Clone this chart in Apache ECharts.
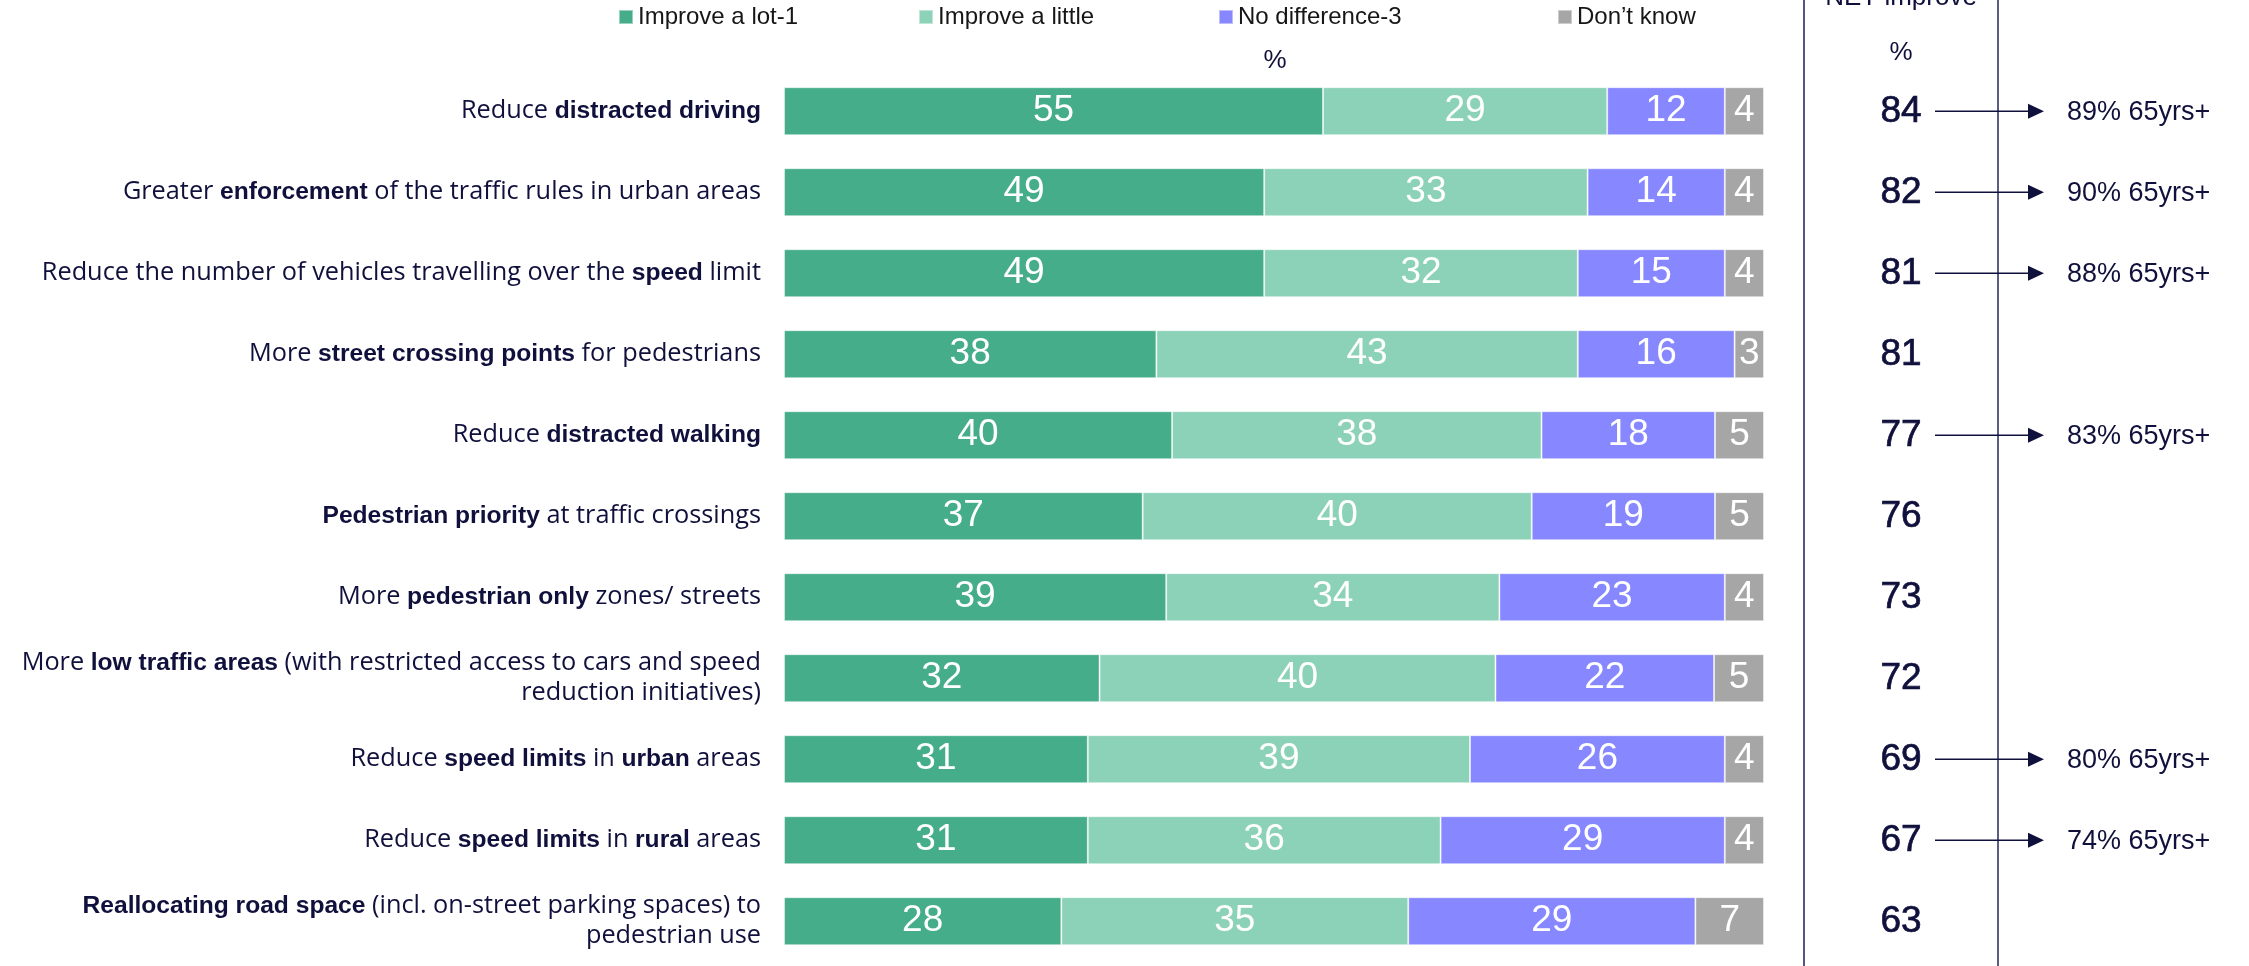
<!DOCTYPE html>
<html>
<head>
<meta charset="utf-8">
<title>Road safety measures – expected improvement</title>
<script src="https://cdn.jsdelivr.net/npm/echarts@6/dist/echarts.min.js"></script>
<style>
  html, body { margin: 0; padding: 0; background: #ffffff; }
  #chart { width: 2249px; height: 966px; }
</style>
</head>
<body>
<div id="chart"></div>
<script>
// Measures, with **bold** key phrases
const categories = [
  'Reduce **distracted driving**',
  'Greater **enforcement** of the traffic rules in urban areas',
  'Reduce the number of vehicles travelling over the **speed** limit',
  'More **street crossing points** for pedestrians',
  'Reduce **distracted walking**',
  '**Pedestrian priority** at traffic crossings',
  'More **pedestrian only** zones/ streets',
  'More **low traffic areas** (with restricted access to cars and speed\nreduction initiatives)',
  'Reduce **speed limits** in **urban** areas',
  'Reduce **speed limits** in **rural** areas',
  '**Reallocating road space** (incl. on-street parking spaces) to\npedestrian use'
];

const seriesNames = ['Improve a lot-1', 'Improve a little', 'No difference-3', 'Don\u2019t know'];

// Shares in % (unrounded where the rounded figures do not add up to 100)
const improveALot    = [55, 49, 49, 38, 39.6, 36.6, 39, 32.2, 31, 31, 28.3];
const improveALittle = [29, 33, 32, 43, 37.7, 39.7, 34, 40.4, 39, 36, 35.4];
const noDifference   = [12, 14, 15, 16, 17.7, 18.7, 23, 22.3, 26, 29, 29.3];
const dontKnow       = [4, 4, 4, 3, 5.0, 5.0, 4, 5.1, 4, 4, 7.0];

const netImprove     = [84, 82, 81, 81, 77, 76, 73, 72, 69, 67, 63];
const netImprove65   = [89, 90, 88, null, 83, null, null, null, 80, 74, null];

const colors = ['#46ad8a', '#8cd2b9', '#8787ff', '#a6a6a6'];
const navy = '#10103c';
const FONT = "'Liberation Sans', Arial, sans-serif";
const LABEL_FONT = "'Open Sans', 'Liberation Sans', Arial, sans-serif";

// Turn "**bold**" markup into ECharts rich text
function richLabel(str) {
  return str.split('\n').map(function (line) {
    const parts = line.split('**');
    return parts.map(function (p, i) {
      if (!p) return '';
      return '{' + (i % 2 ? 'b' : 'n') + '|' + p + '}';
    }).join('');
  }).join('\n');
}

const chart = echarts.init(document.getElementById('chart'), null, { renderer: 'canvas' });

const valueLists = [improveALot, improveALittle, noDifference, dontKnow];
const legendLeft = [618, 918, 1218, 1557];

const barSeries = seriesNames.map(function (name, k) {
  return {
    name: name,
    type: 'bar',
    stack: 'total',
    xAxisIndex: 0,
    yAxisIndex: 0,
    barWidth: 48,
    itemStyle: { color: colors[k], borderColor: 'rgba(255,255,255,0.45)', borderWidth: 1 },
    label: {
      show: true,
      position: 'inside',
      color: '#ffffff',
      fontFamily: FONT,
      fontSize: 37,
      formatter: function (p) { return String(Math.round(p.value)); }
    },
    emphasis: { disabled: true },
    data: valueLists[k]
  };
});

const netSeries = {
  type: 'custom',
  xAxisIndex: 1,
  yAxisIndex: 1,
  clip: false,
  silent: true,
  data: categories.map(function (c, i) { return [netImprove[i], i]; }),
  renderItem: function (params, api) {
    const idx = api.value(1);
    const y = api.coord([0, idx])[1];
    const x0 = params.coordSys.x;
    const children = [{
      type: 'text',
      x: x0 + 97,
      y: y + 1,
      style: {
        text: String(api.value(0)),
        fill: navy,
        stroke: navy,
        lineWidth: 0.7,
        fontFamily: FONT,
        fontSize: 37,
        align: 'center',
        verticalAlign: 'middle'
      }
    }];
    const senior = netImprove65[idx];
    if (senior != null) {
      children.push({
        type: 'line',
        shape: { x1: x0 + 131, y1: y, x2: x0 + 226, y2: y },
        style: { stroke: navy, lineWidth: 1.5 }
      });
      children.push({
        type: 'polygon',
        shape: { points: [[x0 + 224, y - 7.5], [x0 + 240, y], [x0 + 224, y + 7.5]] },
        style: { fill: navy }
      });
      children.push({
        type: 'text',
        x: x0 + 263,
        y: y + 1,
        style: {
          text: senior + '% 65yrs+',
          fill: navy,
          fontFamily: FONT,
          fontSize: 27,
          align: 'left',
          verticalAlign: 'middle'
        }
      });
    }
    return { type: 'group', children: children };
  }
};

const option = {
  backgroundColor: '#ffffff',
  animation: false,
  textStyle: { fontFamily: FONT },
  legend: seriesNames.map(function (name, k) {
    return {
      data: [name],
      left: legendLeft[k],
      top: 5,
      padding: 0,
      itemWidth: 14,
      itemHeight: 14,
      icon: 'rect',
      selectedMode: false,
      textStyle: { color: '#161616', fontSize: 24, fontFamily: FONT }
    };
  }),
  grid: [
    { left: 784, width: 980, top: 70.7, bottom: 4.3, containLabel: false },
    { left: 1804, right: 0, top: 70.7, bottom: 4.3, containLabel: false }
  ],
  xAxis: [
    { type: 'value', gridIndex: 0, min: 0, max: 100, show: false },
    { type: 'value', gridIndex: 1, min: 0, max: 100, show: false }
  ],
  yAxis: [
    {
      type: 'category',
      gridIndex: 0,
      inverse: true,
      data: categories,
      axisLine: { show: false },
      axisTick: { show: false },
      splitLine: { show: false },
      axisLabel: {
        margin: 23,
        align: 'right',
        formatter: richLabel,
        rich: {
          n: { color: navy, fontSize: 25.3, fontFamily: LABEL_FONT, lineHeight: 30, align: 'right' },
          b: { color: navy, fontSize: 24.6, fontFamily: FONT, fontWeight: 'bold', lineHeight: 30, align: 'right' }
        }
      }
    },
    { type: 'category', gridIndex: 1, inverse: true, data: categories, show: false }
  ],
  graphic: [
    { type: 'line', shape: { x1: 1804, y1: 0, x2: 1804, y2: 966 }, style: { stroke: '#1c1c55', lineWidth: 1.5 } },
    { type: 'line', shape: { x1: 1998, y1: 0, x2: 1998, y2: 966 }, style: { stroke: '#5a5e80', lineWidth: 2 } },
    { type: 'text', x: 1275, y: 61, style: { text: '%', fill: navy, fontFamily: FONT, fontSize: 26, align: 'center', verticalAlign: 'middle' } },
    { type: 'text', x: 1901, y: 11, style: { text: 'NET improve', fill: navy, fontFamily: FONT, fontSize: 26, align: 'center', verticalAlign: 'bottom' } },
    { type: 'text', x: 1901, y: 53, style: { text: '%', fill: navy, fontFamily: FONT, fontSize: 26, align: 'center', verticalAlign: 'middle' } }
  ],
  series: barSeries.concat([netSeries])
};

chart.setOption(option);
</script>
</body>
</html>
